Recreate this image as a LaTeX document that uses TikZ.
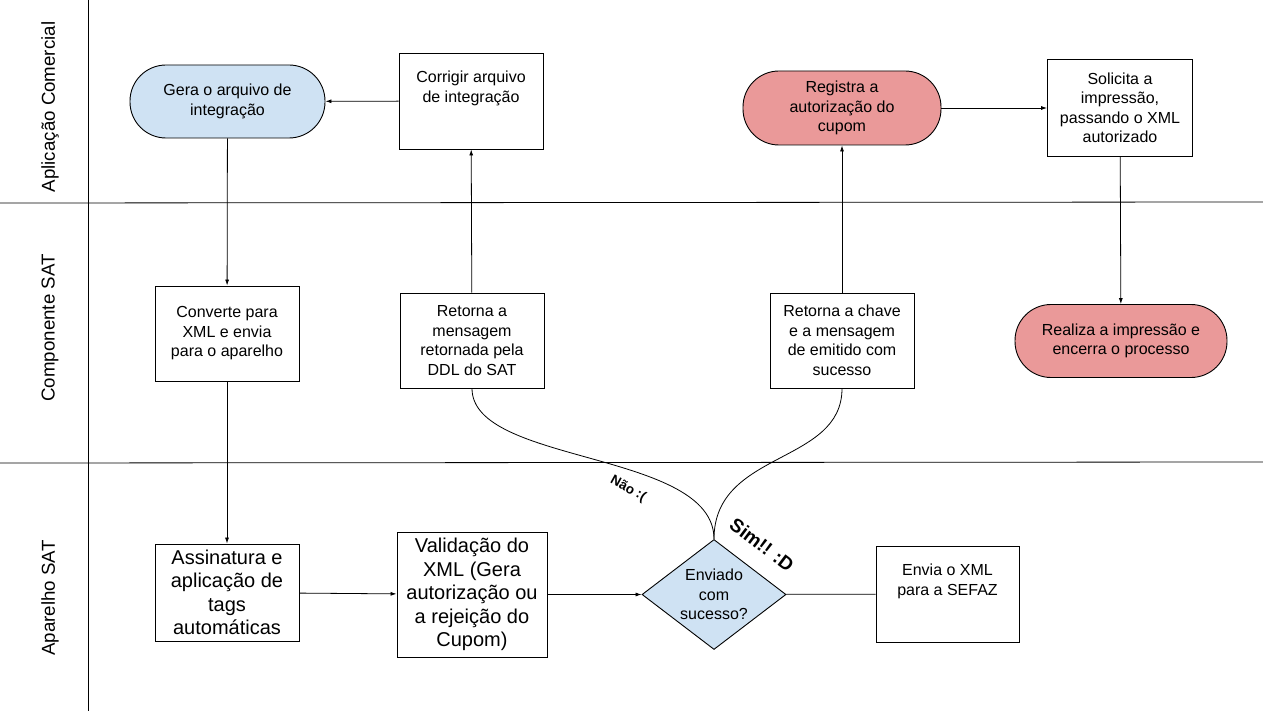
\documentclass[tikz,border=0pt]{standalone}
\usepackage{fontspec}
\setmainfont{Liberation Sans}
\usetikzlibrary{arrows.meta,shapes.geometric}
\definecolor{azul}{RGB}{207,226,243}
\definecolor{rosa}{RGB}{234,153,153}

\begin{document}
\begin{tikzpicture}[x=1pt,y=-1pt,
  >={Latex[length=6pt,width=4pt]},
  every node/.style={font=\fontsize{16}{19.5}\selectfont,align=center},
  box/.style={draw,line width=0.9pt,minimum width=144pt,minimum height=96pt,inner sep=2pt},
  topbox/.style={box,label={[anchor=north,yshift=-15pt]north:{#1}}},
  big/.style={font=\fontsize{20}{23.5}\selectfont},
  term/.style={draw,line width=0.9pt,rounded corners=36pt,minimum height=73pt},
  lane/.style={rotate=90,font=\fontsize{18.7}{22}\selectfont},
  decisao/.style={draw,line width=0.9pt,diamond,aspect=1.31,inner sep=0pt,
    minimum width=144pt,minimum height=110pt,fill=azul},
  fluxo/.style={line width=0.8pt,->},
  liga/.style={line width=0.8pt}]
\useasboundingbox (0,0) rectangle (1263,711);

% raias
\draw[line width=0.8pt] (88,0) -- (88,711);
\draw[line width=0.8pt] (0,203) -- (1263,202);
\draw[line width=0.8pt] (0,463) -- (1263,462);
\node[lane] (lapp) at (50,107) {Aplicação Comercial};
\node[lane] (lcomp) at (50,328) {Componente SAT};
\node[lane] (lapar) at (50,598) {Aparelho SAT};

% Aplicação Comercial
\node[term,fill=azul,minimum width=195pt] (gera) at (227.5,101.5) {Gera o arquivo de\\integração};
\node[topbox={Corrigir arquivo\\de integração}] (corrigir) at (471,101) {};
\node[term,fill=rosa,minimum width=198pt,minimum height=74pt] (registra) at (842,108) {Registra a\\autorização do\\cupom};
\node[box,minimum width=145pt,minimum height=97pt] (solicita) at (1120,108) {Solicita a\\impressão,\\passando o XML\\autorizado};

% Componente SAT
\node[box,minimum height=95pt] (converte) at (227,333.5) {Converte para\\XML e envia\\para o aparelho};
\node[box,minimum height=95pt] (retmsg) at (472,340.5) {Retorna a\\mensagem\\retornada pela\\DDL do SAT};
\node[box,minimum height=95pt] (retchave) at (842,340.5) {Retorna a chave\\e a mensagem\\de emitido com\\sucesso};
\node[term,fill=rosa,minimum width=212pt] (realiza) at (1121,341) {Realiza a impressão e\\encerra o processo};

% Aparelho SAT
\node[box,big,minimum height=97pt] (assina) at (227,592.5) {Assinatura e\\aplicação de\\tags\\automáticas};
\node[box,big,minimum width=150pt,minimum height=125pt] (valida) at (472,594.5) {Validação do\\XML (Gera\\autorização ou\\a rejeição do\\Cupom)};
\node[decisao] (enviado) at (714,594.5) {Enviado\\com\\sucesso?};
\node[topbox={Envia o XML\\para a SEFAZ},minimum width=143pt] (envia) at (947.5,594) {};

\draw[fluxo] (corrigir) -- (gera);
\draw[fluxo] (gera) -- (converte);
\draw[fluxo] (converte) -- (assina);
\draw[fluxo] (assina) -- (valida);
\draw[fluxo] (valida) -- (enviado);
\draw[liga] (enviado) -- (envia);
\draw[liga] (enviado.north) .. controls (714,450) and (472,465) .. (retmsg.south);
\draw[liga] (enviado.north) .. controls (714,450) and (842,465) .. (retchave.south);
\draw[fluxo] (retmsg) -- (corrigir);
\draw[fluxo] (retchave) -- (registra);
\draw[fluxo] (registra) -- (solicita);
\draw[fluxo] (solicita) -- (realiza);

\node[rotate=-29,font=\bfseries\fontsize{13.5}{16}\selectfont] (lblnao) at (628,489) {Não :(};
\node[rotate=-37,font=\bfseries\fontsize{19}{22}\selectfont] (lblsim) at (762,545) {Sim!! :D};
\end{tikzpicture}
\end{document}
